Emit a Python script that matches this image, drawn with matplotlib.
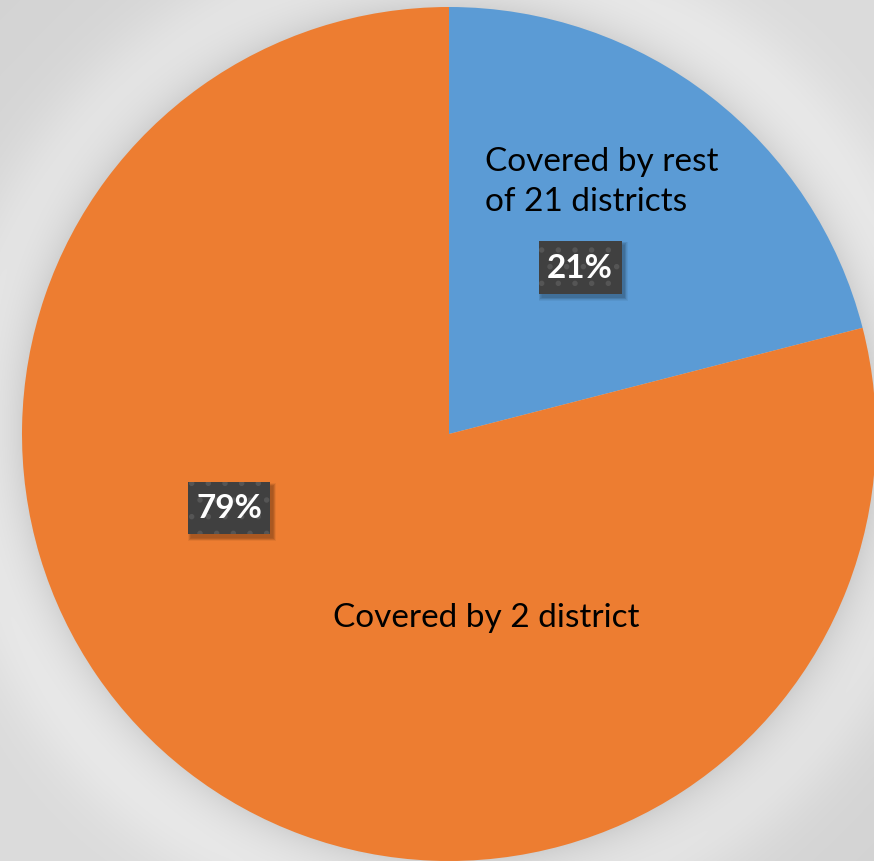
import numpy as np
import matplotlib
matplotlib.use("Agg")
import matplotlib.pyplot as plt
from matplotlib.patches import Rectangle

# ---------------------------------------------------------------- data
labels = ["Covered by rest\nof 21 districts", "Covered by 2 district"]
values = [21, 79]
colors = ["#5B9BD5", "#ED7D31"]
pct_labels = ["21%", "79%"]

W, H = 874, 862
cx, cy, R = 449, H - 435, 427

plt.rcParams["hatch.color"] = "#555555"
plt.rcParams["hatch.linewidth"] = 1.5

fig = plt.figure(figsize=(W / 100, H / 100), dpi=100)
ax = fig.add_axes([0, 0, 1, 1])

# ------------------------------------------------------- background / shadow
yy, xx = np.mgrid[0:H, 0:W]
d = np.hypot(xx - cx, (H - yy) - cy) - R
bg = 0.86 + 0.05 * np.exp(-((d - 45) / 45.0) ** 2)
bg -= 0.05 * np.exp(-np.clip(d, 0, None) / 14.0)
bg -= 0.03 * ((xx + yy) / (W + H) - 0.5) ** 2 * 4
img = np.dstack([bg, bg, bg])
ax.imshow(np.clip(img, 0, 1), extent=(0, W, 0, H), zorder=0)

# ----------------------------------------------------------------- pie
ax.pie(values, colors=colors, startangle=90, counterclock=False,
       center=(cx, cy), radius=R, frame=True,
       wedgeprops=dict(linewidth=0))
ax.set_xlim(0, W)
ax.set_ylim(0, H)
ax.set_aspect("equal")
ax.axis("off")

font = "Lato"
ax.text(485, H - 182, labels[0], fontsize=24, family=font, color="black",
        ha="left", va="center", linespacing=1.45, zorder=5)
ax.text(486, H - 618, labels[1], fontsize=24, family=font, color="black",
        ha="center", va="center", zorder=5)

# percent boxes (x, y of center, width, height)
boxes = [(580, H - 268, 83, 53), (229, H - 509, 82, 52)]
for (bx, by, bw, bh), txt in zip(boxes, pct_labels):
    # soft shadow
    for k in range(6):
        ax.add_patch(Rectangle((bx - bw / 2 + 3 - k * 0.6, by - bh / 2 - 4 - k * 0.6),
                               bw + k * 1.2, bh + k * 1.2,
                               facecolor="black", alpha=0.05, linewidth=0,
                               zorder=4))
    ax.add_patch(Rectangle((bx - bw / 2, by - bh / 2), bw, bh,
                           facecolor="#404040", edgecolor="#555555",
                           hatch=".", linewidth=0, zorder=5))
    ax.text(bx, by, txt, fontsize=24, family=font, weight="bold",
            color="white", ha="center", va="center", zorder=6)

fig.savefig("out.png", dpi=100)
